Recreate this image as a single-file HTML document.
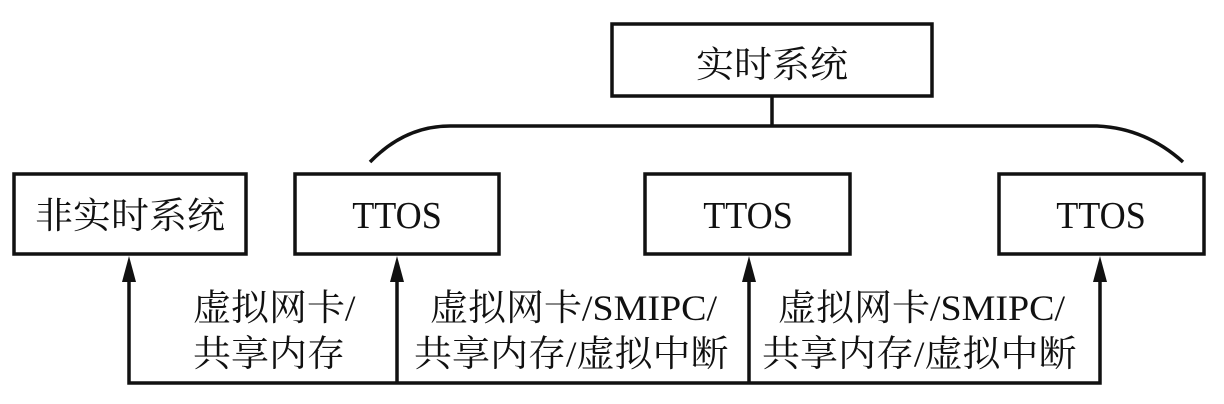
<!DOCTYPE html>
<html><head><meta charset="utf-8"><style>
html,body{margin:0;padding:0;background:#fff;}
svg{display:block;}
text{font-family:"Liberation Serif","Noto Serif CJK SC","Noto Sans CJK SC",serif;fill:#111;}
</style></head><body>
<svg width="1224" height="404" viewBox="0 0 1224 404" xmlns="http://www.w3.org/2000/svg">
<g fill="none" stroke="#111" stroke-width="3.5">
<rect x="14" y="174" width="232" height="80"/>
<rect x="295" y="174" width="204" height="80"/>
<rect x="612" y="24" width="320" height="72"/>
<rect x="645" y="174" width="205" height="80"/>
<rect x="999" y="174" width="205" height="80"/>
<line x1="772" y1="96" x2="772" y2="126"/>
<path d="M370 162 Q405 126 450 126 L1097 126 Q1145 128 1183 162"/>
<polyline points="129,280 129,383 1100,383 1100,280"/>
<line x1="397" y1="280" x2="397" y2="383"/>
<line x1="749" y1="280" x2="749" y2="383"/>
</g>
<g fill="#111">
<polygon points="129,256 122,282 136,282"/>
<polygon points="397,256 390,282 404,282"/>
<polygon points="749,256 742,282 756,282"/>
<polygon points="1100,256 1093,282 1107,282"/>
</g>
<g font-size="38">
<text transform="translate(130,228) scale(1,0.95)" text-anchor="middle">非实时系统</text>
<text transform="translate(397,228) scale(0.95,1)" text-anchor="middle">TTOS</text>
<text transform="translate(772,77) scale(1,0.95)" text-anchor="middle">实时系统</text>
<text transform="translate(748,228) scale(0.95,1)" text-anchor="middle">TTOS</text>
<text transform="translate(1101,228) scale(0.95,1)" text-anchor="middle">TTOS</text>
<text transform="translate(193,320) scale(1,0.95)">虚拟网卡/</text>
<text transform="translate(193,366) scale(1,0.95)">共享内存</text>
<text transform="translate(430,320) scale(1,0.95)">虚拟网卡/SMIPC/</text>
<text transform="translate(414,366) scale(1,0.95)">共享内存/虚拟中断</text>
<text transform="translate(778,320) scale(1,0.95)">虚拟网卡/SMIPC/</text>
<text transform="translate(762,366) scale(1,0.95)">共享内存/虚拟中断</text>
</g>
</svg>
</body></html>
